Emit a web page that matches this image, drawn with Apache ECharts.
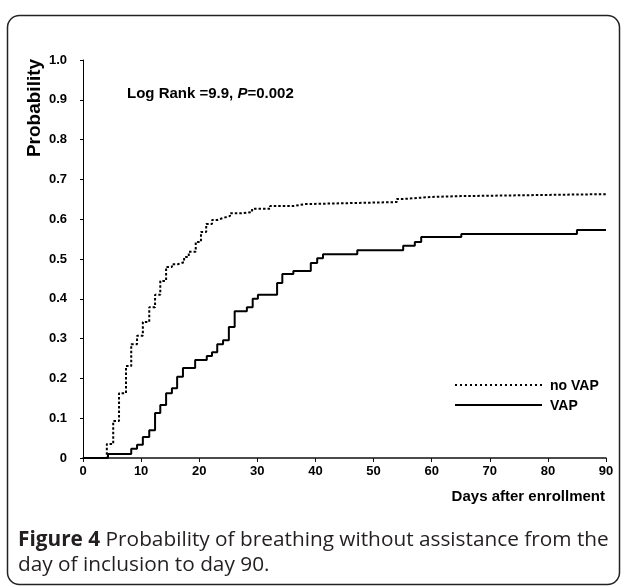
<!DOCTYPE html>
<html><head><meta charset="utf-8">
<script src="https://cdn.jsdelivr.net/npm/echarts@6/dist/echarts.min.js"></script>
<style>html,body{margin:0;padding:0;background:#fff}#c{width:626px;height:587px}</style>
</head><body><div id="c"></div>
<script>
const daysNoVAP = [0, 4.1, 5.2, 6.2, 7.4, 8.3, 9.3, 10.3, 11.4, 12.4, 13.3, 14.3, 15.3, 16.3, 17.4, 18.2, 19.4, 20.3, 21.2, 22.2, 23.1, 24.1, 25.3, 27.3, 29.1, 32.2, 36.2, 38.2, 54, 55.4, 60, 65, 90];
const probNoVAP = [0, 0.035, 0.093, 0.163, 0.231, 0.286, 0.307, 0.342, 0.379, 0.41, 0.445, 0.48, 0.487, 0.492, 0.505, 0.518, 0.543, 0.568, 0.588, 0.598, 0.603, 0.608, 0.615, 0.618, 0.626, 0.633, 0.638, 0.643, 0.651, 0.656, 0.658, 0.663, 0.663];
const daysVAP = [0, 4.3, 8.3, 9.3, 10.3, 11.4, 12.4, 13.3, 14.3, 15.3, 16.2, 17.2, 19.3, 21.3, 22.2, 23.1, 24.1, 25.1, 26.1, 28.2, 29.2, 30.1, 33.4, 34.3, 36.2, 39.2, 40.3, 41.3, 47.2, 55.1, 57.1, 58.2, 65.1, 85, 90];
const probVAP = [0, 0.01, 0.023, 0.033, 0.053, 0.07, 0.113, 0.133, 0.163, 0.175, 0.204, 0.226, 0.246, 0.256, 0.266, 0.286, 0.296, 0.329, 0.369, 0.379, 0.4, 0.41, 0.44, 0.462, 0.47, 0.49, 0.502, 0.512, 0.522, 0.533, 0.543, 0.555, 0.563, 0.573, 0.573];
const seriesNames = ['no VAP', 'VAP'];
const xTitle = 'Days after enrollment';
const yTitle = 'Probability';
const statText = 'Log Rank =9.9, ';
const statP = 'P';
const statPval = '=0.002';
const captionBold = 'Figure 4';
const captionLine1 = ' Probability of breathing without assistance from the';
const captionLine2 = 'day of inclusion to day 90.';

const zip = (a, b) => a.map((v, i) => [v, b[i]]);
const chart = echarts.init(document.getElementById('c'), null, {renderer: 'canvas'});
const FF = '"Liberation Sans", Arial, sans-serif';
const tickFont = {fontFamily: FF, fontWeight: 'bold', fontSize: 13, color: '#000'};
const dotType = [2.5, 2];
chart.setOption({
  animation: false,
  backgroundColor: '#fff',
  grid: {left: 83, right: 20, top: 60, bottom: 129},
  xAxis: {
    type: 'value', min: 0, max: 90, interval: 10,
    axisLine: {lineStyle: {color: '#111', width: 1.5}},
    axisTick: {show: true, inside: false, length: 4, lineStyle: {color: '#111'}},
    axisLabel: Object.assign({margin: 7}, tickFont),
    splitLine: {show: false}
  },
  yAxis: {
    type: 'value', min: 0, max: 1, interval: 0.1,
    axisLine: {show: true, lineStyle: {color: '#000', width: 1}},
    axisTick: {show: true, inside: false, length: 3, lineStyle: {color: '#000'}},
    axisLabel: Object.assign({margin: 16, formatter: v => v === 0 ? '0' : v.toFixed(1)}, tickFont),
    splitLine: {show: false}
  },
  series: [
    {name: seriesNames[0], type: 'line', step: 'end', symbol: 'none', data: zip(daysNoVAP, probNoVAP),
      lineStyle: {color: '#000', width: 2, type: dotType}, itemStyle: {color: '#000'}},
    {name: seriesNames[1], type: 'line', step: 'end', symbol: 'none', data: zip(daysVAP, probVAP),
      lineStyle: {color: '#000', width: 2, type: 'solid'}, itemStyle: {color: '#000'}}
  ],
  graphic: [
    {type: 'rect', shape: {x: 7.5, y: 15.5, width: 612, height: 569, r: 12}, style: {fill: 'none', stroke: '#222', lineWidth: 1.5}, z: 0},
    {type: 'text', x: 35, y: 108, rotation: Math.PI / 2, style: {text: yTitle, font: 'bold 19px ' + FF, fill: '#000', align: 'center', verticalAlign: 'middle'}},
    {type: 'text', x: 127, y: 94, style: {
      text: statText + '{i|' + statP + '}' + statPval,
      font: 'bold 15px ' + FF, fill: '#000', verticalAlign: 'middle',
      rich: {i: {font: 'italic bold 15px ' + FF, fill: '#000'}}
    }},
    // legend
    {type: 'line', shape: {x1: 455, y1: 385, x2: 542, y2: 385}, style: {stroke: '#000', lineWidth: 2, lineDash: [2, 3]}},
    {type: 'text', x: 550, y: 386, style: {text: seriesNames[0], font: 'bold 14px ' + FF, fill: '#000', verticalAlign: 'middle'}},
    {type: 'line', shape: {x1: 455, y1: 405, x2: 542, y2: 405}, style: {stroke: '#000', lineWidth: 2}},
    {type: 'text', x: 550, y: 406, style: {text: seriesNames[1], font: 'bold 14px ' + FF, fill: '#000', verticalAlign: 'middle'}},
    {type: 'text', x: 605, y: 497, style: {text: xTitle, font: 'bold 15px ' + FF, fill: '#000', align: 'right', verticalAlign: 'middle'}},
    {type: 'text', x: 18, y: 540, style: {
      text: '{b|' + captionBold + '}' + captionLine1,
      font: '20.8px "Open Sans", sans-serif', fill: '#231f20', verticalAlign: 'middle',
      rich: {b: {font: 'bold 20.8px "Open Sans", sans-serif', fill: '#231f20'}}
    }},
    {type: 'text', x: 18, y: 565, style: {text: captionLine2, font: '20.8px "Open Sans", sans-serif', fill: '#231f20', verticalAlign: 'middle'}}
  ]
});
</script></body></html>
